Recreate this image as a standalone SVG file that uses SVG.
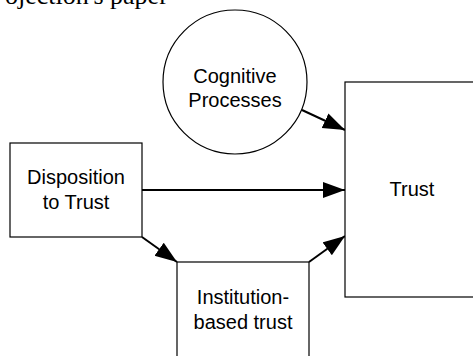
<svg xmlns="http://www.w3.org/2000/svg" width="473" height="356" viewBox="0 0 473 356">
  <style>
    .box { fill: #fff; stroke: #000; stroke-width: 1.2; }
    .lbl { font-family: "Liberation Sans", Arial, sans-serif; font-size: 20px; fill: #000; text-anchor: middle; }
    .page { font-family: "Liberation Serif", "Times New Roman", serif; font-size: 26px; fill: #000; }
    .conn { stroke: #000; stroke-width: 2; fill: none; marker-end: url(#head); }
  </style>
  <defs>
    <marker id="head" markerUnits="userSpaceOnUse" markerWidth="24" markerHeight="18" refX="22" refY="8" orient="auto">
      <path d="M0,0 L22,8 L0,16 Z" fill="#000"/>
    </marker>
  </defs>
  <rect width="473" height="356" fill="#fff"/>

  <!-- running text of the surrounding page, cut at the top edge -->
  <text class="page" x="5" y="4">ojection's paper</text>

  <g id="connectors">
    <line class="conn" x1="302" y1="110" x2="345" y2="130"/>
    <line class="conn" x1="142" y1="190" x2="345" y2="190"/>
    <line class="conn" x1="142" y1="237" x2="177" y2="262"/>
    <line class="conn" x1="309" y1="262" x2="345" y2="236"/>
  </g>

  <g id="cognitive-processes">
    <circle class="box" cx="235" cy="82" r="72"/>
    <text class="lbl" x="235" y="83">Cognitive</text>
    <text class="lbl" x="235" y="107">Processes</text>
  </g>

  <g id="disposition-to-trust">
    <rect class="box" x="10" y="143" width="132" height="94"/>
    <text class="lbl" x="76" y="184">Disposition</text>
    <text class="lbl" x="76" y="209">to Trust</text>
  </g>

  <g id="institution-based-trust">
    <rect class="box" x="177" y="262" width="132" height="96"/>
    <text class="lbl" x="243" y="304">Institution-</text>
    <text class="lbl" x="243" y="329">based trust</text>
  </g>

  <g id="trust">
    <rect class="box" x="345" y="82" width="134" height="215"/>
    <text class="lbl" x="412" y="196">Trust</text>
  </g>
</svg>
